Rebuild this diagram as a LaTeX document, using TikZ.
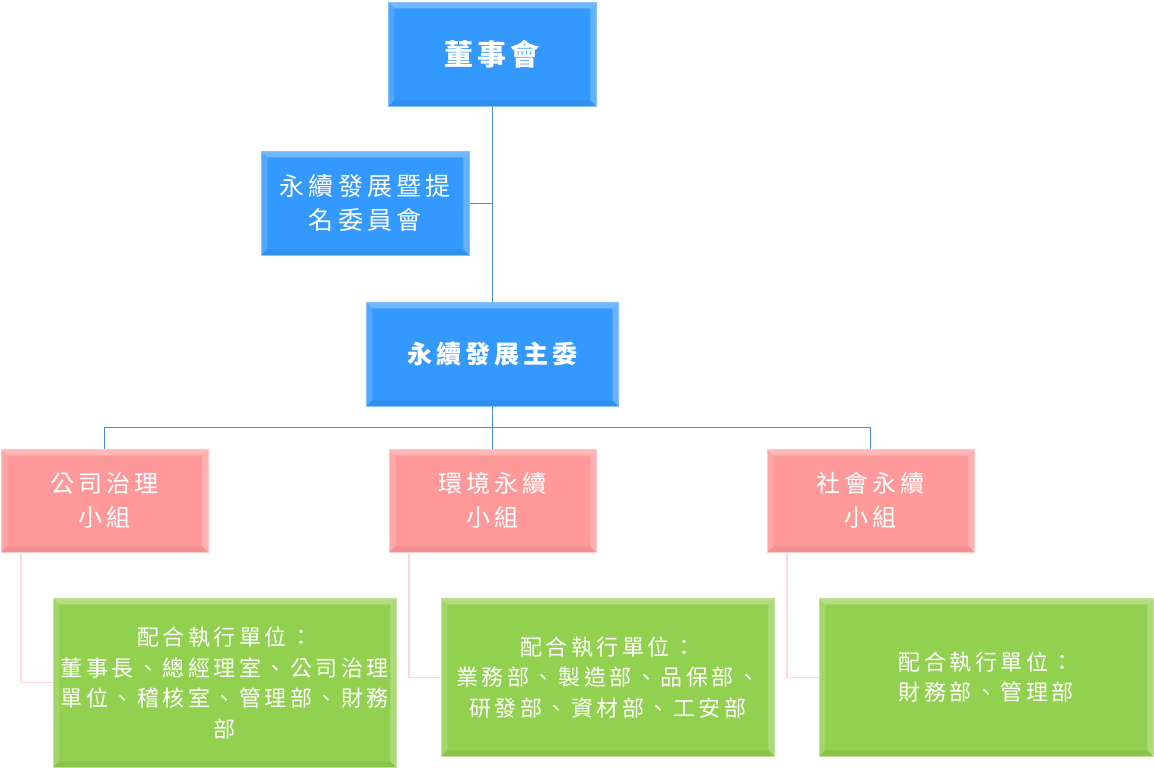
\documentclass[tikz,border=0pt]{standalone}
\usepackage{fontspec}
\newfontfamily\cjk{Noto Sans CJK TC}
\usetikzlibrary{calc}

\definecolor{boxblue}{RGB}{51,153,255}
\definecolor{boxpink}{RGB}{255,153,153}
\definecolor{boxgreen}{RGB}{146,208,80}
\definecolor{lineblue}{RGB}{74,140,215}
\definecolor{linepink}{RGB}{255,215,215}

\tikzset{
  bevel/.style={path picture={
    \path (path picture bounding box.north west) coordinate (p1)
          (path picture bounding box.north east) coordinate (p2)
          (path picture bounding box.south east) coordinate (p3)
          (path picture bounding box.south west) coordinate (p4);
    \fill[white,opacity=.30] (p1) -- (p2) -- ([shift={(-6pt,-6pt)}]p2) -- ([shift={(6pt,-6pt)}]p1) -- cycle;
    \fill[white,opacity=.14] (p1) -- ([shift={(6pt,-6pt)}]p1) -- ([shift={(6pt,6pt)}]p4) -- (p4) -- cycle;
    \fill[white,opacity=.25] (p2) -- ([shift={(-6pt,-6pt)}]p2) -- ([shift={(-6pt,6pt)}]p3) -- (p3) -- cycle;
    \fill[black,opacity=.06] (p4) -- ([shift={(6pt,6pt)}]p4) -- ([shift={(-6pt,6pt)}]p3) -- (p3) -- cycle;
  }},
  box/.style={bevel, anchor=north west, inner sep=0pt, align=center, text=white},
  bluebox/.style={box, fill=boxblue, draw=boxblue!60!white, line width=0.6pt},
  pinkbox/.style={box, fill=boxpink, draw=boxpink!55!white, line width=0.6pt,
    minimum width=207pt, minimum height=103pt,
    font=\cjk\addfontfeature{LetterSpace=17}\fontsize{24}{34}\selectfont},
  greenbox/.style={box, fill=boxgreen, draw=boxgreen!60!white, line width=0.6pt,
    font=\cjk\addfontfeature{LetterSpace=16}\fontsize{22}{30.5}\selectfont},
  bline/.style={lineblue, line width=1pt},
  pline/.style={linepink, line width=1.2pt}
}

\begin{document}
\begin{tikzpicture}[x=1pt,y=-1pt]

\useasboundingbox (0,0) rectangle (1154,768);

% top of the chart
\node[bluebox, minimum width=208pt, minimum height=104pt,
      font=\cjk\bfseries\addfontfeature{LetterSpace=14}\fontsize{29}{34}\selectfont] at (388,2) (a1) {董事會};
\node[bluebox, minimum width=208pt, minimum height=104pt,
      font=\cjk\addfontfeature{LetterSpace=17}\fontsize{25}{34}\selectfont] at (261,151) (a2) {永續發展暨提\\名委員會};
\node[bluebox, minimum width=252pt, minimum height=104pt,
      font=\cjk\bfseries\addfontfeature{LetterSpace=16}\fontsize{25}{34}\selectfont] at (366,302) (a3) {永續發展主委};

% groups
\node[pinkbox] at (1,449) (b1) {公司治理\\小組};
\node[pinkbox] at (389,449) (b2) {環境永續\\小組};
\node[pinkbox] at (767,449) (b3) {社會永續\\小組};

% units
\node[greenbox, minimum width=343pt, minimum height=169pt] at (53,598) (c1)
  {配合執行單位：\\董事長、總經理室、公司治理\\單位、稽核室、管理部、財務\\部};
\node[greenbox, minimum width=333pt, minimum height=158pt] at (441,598) (c2)
  {配合執行單位：\\業務部、製造部、品保部、\\研發部、資材部、工安部};
\node[greenbox, minimum width=334pt, minimum height=158pt] at (819,598) (c3)
  {配合執行單位：\\財務部、管理部};

% blue connectors
\draw[bline] (a1.south) -- (a3.north);
\draw[bline] (a2.east) -- (a2.east -| a1.south);
\coordinate (bus) at ($(a3.south)+(0,21)$);
\draw[bline] (a3.south) -- (bus);
\draw[bline] (b1.north) |- (bus);
\draw[bline] (b3.north) |- (bus);
\draw[bline] (b2.north) -- (b2.north |- bus);

% pink connectors
\draw[pline] ([xshift=20pt]b1.south west) |- (c1.west);
\draw[pline] ([xshift=20pt]b2.south west) |- (c2.west);
\draw[pline] ([xshift=20pt]b3.south west) |- (c3.west);

\end{tikzpicture}
\end{document}
